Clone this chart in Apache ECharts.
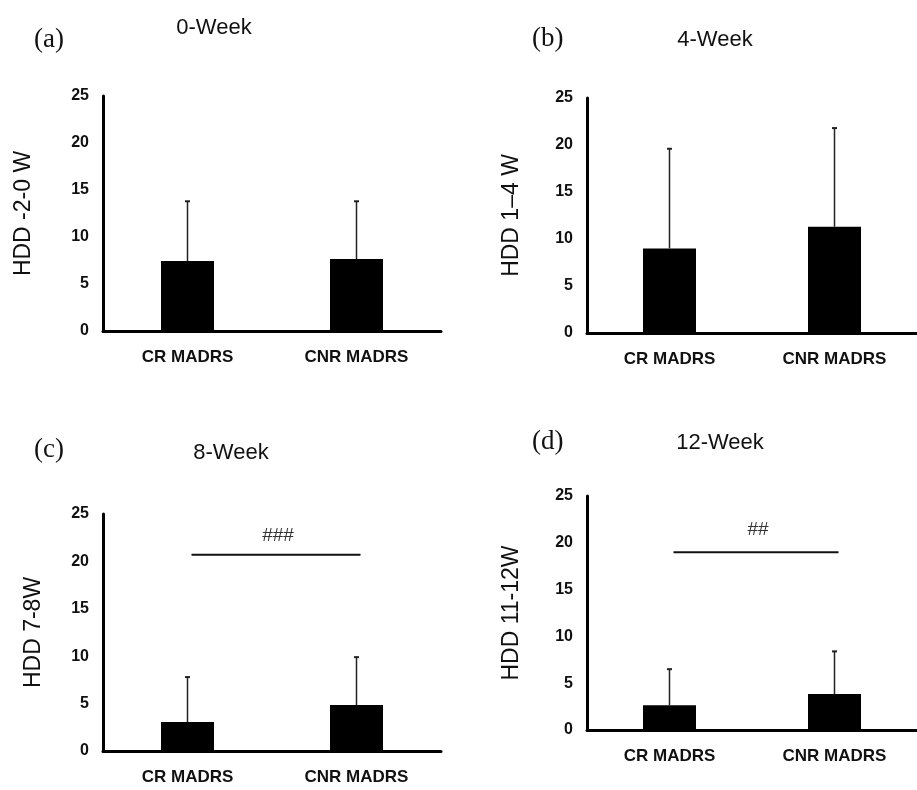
<!DOCTYPE html>
<html>
<head>
<meta charset="utf-8">
<script src="https://cdn.jsdelivr.net/npm/echarts@6/dist/echarts.min.js"></script>
<style>
html,body{margin:0;padding:0;background:#fff;}
#chart{width:917px;height:790px;}
</style>
</head>
<body>
<div id="chart"></div>
<script>
// ---- data ----
var categories = ['CR MADRS', 'CNR MADRS'];
var panelTitles = ['0-Week', '4-Week', '8-Week', '12-Week'];
var panelLetters = ['(a)', '(b)', '(c)', '(d)'];
var yAxisNames = ['HDD -2-0 W', 'HDD 1\u20134 W', 'HDD 7-8W', 'HDD 11-12W'];
var yTicks = [0, 5, 10, 15, 20, 25];

var means0 = [7.45, 7.65];
var sd0 = [6.35, 6.15];
var means4 = [9.0, 11.3];
var sd4 = [10.6, 10.5];
var means8 = [3.05, 4.85];
var sd8 = [4.75, 5.05];
var means12 = [2.65, 3.85];
var sd12 = [3.85, 4.55];

var sigLevel = [null, null, 20.7, 19.0];
var sigText = [null, null, '###', '##'];

// ---- layout ----
var grids = [
  {left: 103, top: 96, width: 338, height: 235},
  {left: 587, top: 98, width: 339, height: 235},
  {left: 103, top: 514, width: 338, height: 237},
  {left: 587, top: 496, width: 339, height: 234}
];
var titlePos = [
  {x: 209, y: 12}, {x: 710, y: 24}, {x: 226, y: 437}, {x: 715, y: 427}
];
var letterPos = [
  {x: 29, y: 21}, {x: 527, y: 20}, {x: 29, y: 431}, {x: 527, y: 423}
];
var yNameGap = [68, 64, 58, 64];
var sigTextOffset = [0, 0, 19, 22];

var means = [means0, means4, means8, means12];
var sds = [sd0, sd4, sd8, sd12];

var narrow = "'Liberation Sans Narrow', 'Arial Narrow', 'Liberation Sans', sans-serif";

var option = {
  animation: false,
  backgroundColor: '#fff',
  title: [],
  grid: [],
  xAxis: [],
  yAxis: [],
  series: []
};

for (var i = 0; i < 4; i++) {
  option.grid.push(grids[i]);
  option.title.push({
    text: panelTitles[i], left: titlePos[i].x, top: titlePos[i].y, textAlign: 'center',
    textStyle: {fontFamily: "'Liberation Sans', Arial, sans-serif", fontWeight: 'normal', fontSize: 22, color: '#111'}
  });
  option.title.push({
    text: panelLetters[i], left: letterPos[i].x, top: letterPos[i].y,
    textStyle: {fontFamily: "'Liberation Serif', 'Times New Roman', serif", fontWeight: 'normal', fontSize: 27, color: '#111'}
  });
  option.xAxis.push({
    type: 'category', gridIndex: i, data: categories,
    axisLine: {show: true, lineStyle: {color: '#000', width: 3}},
    axisTick: {show: false},
    axisLabel: {color: '#111', fontFamily: narrow, fontWeight: 'bold', fontSize: 17, margin: 18},
    splitLine: {show: false}
  });
  option.yAxis.push({
    type: 'value', gridIndex: i, min: yTicks[0], max: yTicks[yTicks.length - 1], interval: yTicks[1] - yTicks[0],
    name: yAxisNames[i], nameLocation: 'middle', nameRotate: 90, nameGap: yNameGap[i],
    nameTextStyle: {fontFamily: "'Liberation Sans', Arial, sans-serif", fontSize: 23, color: '#111'},
    axisLine: {show: true, lineStyle: {color: '#000', width: 3}},
    axisTick: {show: false},
    axisLabel: {color: '#111', fontFamily: narrow, fontWeight: 'bold', fontSize: 16, margin: 14},
    splitLine: {show: false}
  });
  option.series.push({
    type: 'bar', xAxisIndex: i, yAxisIndex: i, data: means[i], barWidth: 53,
    itemStyle: {color: '#000'}, z: 2
  });
  var errData = [];
  for (var k = 0; k < categories.length; k++) {
    errData.push([k, means[i][k], means[i][k] + sds[i][k]]);
  }
  option.series.push({
    type: 'custom', xAxisIndex: i, yAxisIndex: i, data: errData, z: 3,
    renderItem: function (params, api) {
      var base = api.coord([api.value(0), api.value(1)]);
      var top = api.coord([api.value(0), api.value(2)]);
      return {
        type: 'group',
        children: [
          {type: 'line', shape: {x1: base[0], y1: base[1], x2: top[0], y2: top[1]},
           style: {stroke: '#222', lineWidth: 1.5}},
          {type: 'line', shape: {x1: top[0] - 2.5, y1: top[1], x2: top[0] + 2.5, y2: top[1]},
           style: {stroke: '#222', lineWidth: 2}}
        ]
      };
    }
  });
  if (sigLevel[i] !== null) {
    (function (txt, off) {
      option.series.push({
        type: 'custom', xAxisIndex: i, yAxisIndex: i, data: [[0, 1, sigLevel[i]]], z: 3,
        renderItem: function (params, api) {
          var p1 = api.coord([api.value(0), api.value(2)]);
          var p2 = api.coord([api.value(1), api.value(2)]);
          return {
            type: 'group',
            children: [
              {type: 'line', shape: {x1: p1[0] + 4, y1: p1[1], x2: p2[0] + 4, y2: p2[1]},
               style: {stroke: '#111', lineWidth: 2}},
              {type: 'text', x: (p1[0] + p2[0]) / 2 + 6, y: p1[1] - off,
               style: {text: txt, font: "19px 'Liberation Sans', Arial, sans-serif", fill: '#333',
                       align: 'center', verticalAlign: 'middle'}}
            ]
          };
        }
      });
    })(sigText[i], sigTextOffset[i]);
  }
}

var chart = echarts.init(document.getElementById('chart'));
chart.setOption(option);
</script>
</body>
</html>
